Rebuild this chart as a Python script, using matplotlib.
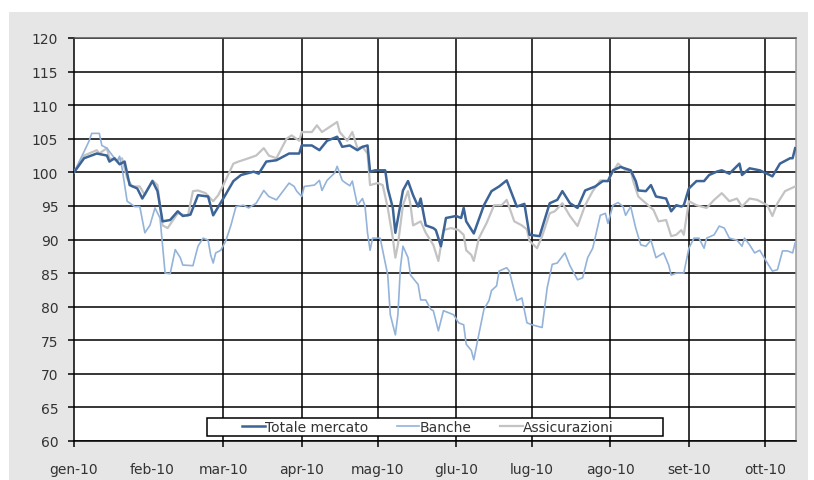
import matplotlib
matplotlib.use("Agg")
import matplotlib.pyplot as plt
import matplotlib.dates as mdates
from matplotlib.patches import Rectangle
from matplotlib.ticker import FixedLocator
import pandas as pd

plt.rcParams["font.family"] = ["DejaVu Sans"]

YEAR = "2010-"

# Indici (base 100 = 1 gennaio 2010)
totale_dates = ["01-01", "01-05", "01-10", "01-14", "01-15", "01-17", "01-19", "01-21", "01-23", "01-26",
                "01-28", "02-01", "02-03", "02-05", "02-08", "02-11", "02-13", "02-16", "02-19", "02-23",
                "02-25", "03-01", "03-05", "03-08", "03-13", "03-15", "03-18", "03-22", "03-27", "03-31",
                "04-01", "04-05", "04-08", "04-11", "04-15", "04-17", "04-20", "04-23", "04-25", "04-27",
                "04-28", "04-30", "05-04", "05-05", "05-07", "05-08", "05-11", "05-13", "05-15", "05-17",
                "05-18", "05-20", "05-23", "05-24", "05-26", "05-28", "06-01", "06-03", "06-04", "06-05",
                "06-08", "06-12", "06-15", "06-18", "06-21", "06-25", "06-28", "06-30", "07-04", "07-08",
                "07-11", "07-13", "07-16", "07-19", "07-22", "07-26", "07-29", "07-31", "08-02", "08-05",
                "08-09", "08-11", "08-12", "08-15", "08-17", "08-19", "08-23", "08-25", "08-27", "08-29",
                "08-30", "09-01", "09-04", "09-07", "09-09", "09-12", "09-14", "09-17", "09-21", "09-22",
                "09-25", "09-29", "10-03", "10-04", "10-07", "10-11", "10-12", "10-13"]
totale_values = [100, 102.1, 102.8, 102.5, 101.6, 102.1, 101.2, 101.6, 98.1, 97.6,
                 96.1, 98.7, 97.2, 92.7, 92.9, 94.2, 93.5, 93.7, 96.6, 96.4,
                 93.6, 96.1, 98.7, 99.6, 100.1, 99.8, 101.6, 101.8, 102.8, 102.8,
                 104.0, 104.0, 103.3, 104.7, 105.3, 103.8, 104.0, 103.3, 103.8, 104.0,
                 100.1, 100.3, 100.3, 97.6, 94.7, 91.0, 97.3, 98.7, 96.6, 94.9,
                 96.1, 92.1, 91.7, 91.4, 89.0, 93.2, 93.5, 93.2, 94.7, 92.7,
                 90.9, 95.1, 97.2, 97.9, 98.8, 94.9, 95.3, 90.7, 90.5, 95.4,
                 95.9, 97.2, 95.4, 94.7, 97.3, 97.9, 98.7, 98.7, 100.3, 100.8,
                 100.3, 98.7, 97.3, 97.2, 98.1, 96.4, 96.1, 94.2, 95.1, 94.9,
                 95.1, 97.6, 98.7, 98.7, 99.6, 100.1, 100.3, 99.8, 101.3, 99.6,
                 100.6, 100.3, 99.6, 99.4, 101.3, 102.1, 102.1, 103.6]

banche_dates = ["01-01", "01-05", "01-07", "01-08", "01-11", "01-12", "01-14", "01-15", "01-18", "01-19",
                "01-20", "01-22", "01-25", "01-27", "01-29", "01-31", "02-02", "02-04", "02-06", "02-08",
                "02-10", "02-12", "02-13", "02-17", "02-19", "02-21", "02-23", "02-24", "02-25", "02-26",
                "02-28", "03-02", "03-04", "03-06", "03-09", "03-11", "03-14", "03-17", "03-19", "03-22",
                "03-24", "03-27", "03-29", "03-30", "04-01", "04-02", "04-06", "04-08", "04-09", "04-11",
                "04-14", "04-15", "04-17", "04-18", "04-20", "04-21", "04-23", "04-25", "04-26", "04-27",
                "04-28", "04-29", "05-02", "05-05", "05-06", "05-08", "05-09", "05-10", "05-11", "05-13",
                "05-14", "05-17", "05-18", "05-20", "05-22", "05-23", "05-25", "05-27", "05-29", "05-31",
                "06-02", "06-04", "06-05", "06-07", "06-08", "06-10", "06-12", "06-14", "06-15", "06-17",
                "06-18", "06-21", "06-22", "06-24", "06-25", "06-27", "06-29", "07-01", "07-05", "07-07",
                "07-09", "07-11", "07-14", "07-16", "07-19", "07-21", "07-23", "07-25", "07-27", "07-28",
                "07-30", "07-31", "08-02", "08-04", "08-06", "08-07", "08-09", "08-11", "08-13", "08-15",
                "08-17", "08-19", "08-22", "08-24", "08-25", "08-27", "08-30", "09-01", "09-03", "09-05",
                "09-07", "09-08", "09-11", "09-13", "09-15", "09-17", "09-20", "09-22", "09-23", "09-25",
                "09-27", "09-29", "10-02", "10-04", "10-06", "10-08", "10-10", "10-12", "10-13"]
banche_values = [100, 103.1, 104.7, 105.8, 105.8, 104.0, 103.6, 103.1, 101.6, 102.4,
                 100.6, 95.7, 94.9, 94.9, 91.0, 92.1, 94.7, 93.2, 85.0, 84.9,
                 88.5, 87.3, 86.2, 86.1, 89.0, 90.2, 89.9, 87.7, 86.5, 88.0,
                 88.4, 89.8, 92.1, 94.9, 95.1, 94.7, 95.4, 97.3, 96.4, 95.9,
                 96.9, 98.4, 97.9, 97.2, 96.4, 97.9, 98.1, 98.8, 97.3, 98.8,
                 99.9, 100.9, 98.8, 98.5, 98.0, 98.7, 95.1, 96.1, 95.0, 91.0,
                 88.4, 90.2, 90.2, 84.7, 78.8, 75.8, 78.8, 85.8, 89.0, 87.3,
                 84.7, 83.3, 81.0, 81.0, 79.6, 79.4, 76.4, 79.4, 79.1, 78.8,
                 77.6, 77.3, 74.4, 73.5, 72.1, 75.9, 79.6, 80.9, 82.4, 83.1,
                 85.3, 85.8, 85.3, 82.4, 80.9, 81.3, 77.6, 77.3, 76.9, 82.8,
                 86.3, 86.5, 88.0, 86.1, 84.0, 84.3, 87.3, 88.7, 92.0, 93.6,
                 93.9, 92.4, 95.1, 95.5, 94.9, 93.6, 94.9, 91.7, 89.2, 89.0,
                 89.9, 87.3, 88.0, 86.2, 84.7, 85.0, 85.0, 88.7, 90.2, 90.2,
                 88.7, 90.2, 90.7, 92.0, 91.7, 90.2, 89.9, 89.0, 90.2, 89.2,
                 88.0, 88.4, 86.5, 85.3, 85.5, 88.3, 88.3, 88.0, 89.5]

assic_dates = ["01-01", "01-05", "01-10", "01-11", "01-14", "01-15", "01-18", "01-20", "01-22", "01-24",
               "01-27", "01-29", "02-01", "02-03", "02-05", "02-07", "02-11", "02-15", "02-17", "02-19",
               "02-22", "02-25", "02-27", "03-01", "03-05", "03-07", "03-11", "03-14", "03-17", "03-19",
               "03-22", "03-26", "03-28", "03-31", "04-01", "04-05", "04-07", "04-09", "04-15", "04-16",
               "04-19", "04-21", "04-23", "04-25", "04-27", "04-28", "05-01", "05-03", "05-05", "05-07",
               "05-08", "05-09", "05-11", "05-13", "05-14", "05-15", "05-18", "05-20", "05-22", "05-23",
               "05-25", "05-27", "05-30", "06-02", "06-04", "06-05", "06-07", "06-08", "06-10", "06-13",
               "06-16", "06-19", "06-21", "06-24", "06-27", "06-29", "06-30", "07-03", "07-05", "07-08",
               "07-10", "07-13", "07-16", "07-19", "07-22", "07-25", "07-28", "07-31", "08-02", "08-04",
               "08-07", "08-09", "08-10", "08-12", "08-15", "08-18", "08-20", "08-23", "08-25", "08-27",
               "08-29", "08-30", "09-01", "09-04", "09-06", "09-08", "09-11", "09-14", "09-17", "09-20",
               "09-22", "09-25", "09-28", "10-02", "10-04", "10-06", "10-09", "10-13"]
assic_values = [100, 102.5, 103.3, 102.8, 103.6, 102.1, 101.8, 102.1, 99.1, 97.9,
                97.9, 96.6, 98.8, 98.1, 92.1, 91.7, 93.9, 93.5, 97.2, 97.3,
                96.9, 95.7, 96.6, 98.1, 101.3, 101.6, 102.1, 102.5, 103.6, 102.5,
                102.1, 105.0, 105.5, 104.7, 106.0, 106.0, 107.0, 106.0, 107.5, 106.0,
                104.7, 106.0, 103.6, 103.8, 102.8, 98.1, 98.4, 98.1, 94.7, 90.2,
                87.3, 89.2, 95.1, 97.2, 95.1, 92.1, 92.7, 91.0, 89.8, 89.2,
                86.8, 91.4, 91.7, 91.4, 90.7, 88.4, 87.7, 86.8, 90.2, 92.4,
                95.1, 95.1, 95.9, 92.7, 92.1, 91.5, 89.8, 88.7, 90.5, 93.9,
                94.2, 95.4, 93.5, 92.0, 95.1, 97.2, 98.8, 98.7, 100.1, 101.3,
                100.3, 100.3, 98.7, 96.4, 95.4, 94.4, 92.7, 92.9, 90.5, 90.7,
                91.4, 90.7, 95.7, 95.1, 94.9, 94.7, 95.9, 96.9, 95.7, 96.1,
                94.9, 96.1, 95.9, 95.1, 93.5, 95.4, 97.2, 97.9]

month_starts = ["01-01", "02-01", "03-01", "04-01", "05-01", "06-01", "07-01", "08-01", "09-01", "10-01"]
month_labels = ["gen-10", "feb-10", "mar-10", "apr-10", "mag-10", "glu-10", "lug-10", "ago-10",
                "set-10", "ott-10"]
y_ticks = list(range(60, 121, 5))

series_names = ["Totale mercato", "Banche", "Assicurazioni"]
series_colors = ["#3c6497", "#93b3da", "#c3c3c3"]


def to_dates(days):
    return pd.to_datetime([YEAR + d for d in days])


W, H = 814, 481
fig = plt.figure(figsize=(W / 100, H / 100), dpi=100)
fig.patch.set_facecolor("white")

# grey panel behind the chart
fig.patches.append(Rectangle((9 / W, 0), (808 - 9) / W, (H - 13) / H, transform=fig.transFigure,
                             facecolor="#e6e6e6", edgecolor="none", zorder=-1))

ax = fig.add_axes([74 / W, 1 - 442 / H, (796 - 74) / W, (442 - 39) / H])
ax.set_facecolor("white")

l_ass, = ax.plot(to_dates(assic_dates), assic_values, color=series_colors[2], lw=1.6, zorder=3)
l_ban, = ax.plot(to_dates(banche_dates), banche_values, color=series_colors[1], lw=1.2, zorder=4)
l_tot, = ax.plot(to_dates(totale_dates), totale_values, color=series_colors[0], lw=1.8, zorder=5)

ax.set_ylim(60, 120)
ax.set_xlim(pd.Timestamp("2010-01-01"), pd.Timestamp("2010-10-13 08:00"))

# horizontal grid
ax.set_yticks(y_ticks)
ax.yaxis.grid(True, color="black", lw=1.1, zorder=1)
ax.tick_params(axis="y", direction="out", length=4.3, width=1.1, color="black", pad=7,
               labelsize=10, labelcolor="#333333")

# month labels (all months), tick marks and vertical grid (no February line)
month_dates = to_dates(month_starts)
ax.set_xticks(mdates.date2num(month_dates))
ax.set_xticklabels(month_labels)
ax.tick_params(axis="x", which="major", length=0, pad=15, labelsize=10, labelcolor="#333333")
grid_dates = [d for d, lab in zip(month_dates, month_labels) if not lab.startswith("feb")]
ax.xaxis.remove_overlapping_locs = False
ax.xaxis.set_minor_locator(FixedLocator(mdates.date2num(grid_dates)))
ax.tick_params(axis="x", which="minor", direction="out", length=4.5, width=1.1, color="black")
for d in grid_dates[1:]:
    ax.axvline(d, color="black", lw=1.1, zorder=1)

for side in ("left", "bottom"):
    ax.spines[side].set_color("black")
    ax.spines[side].set_linewidth(1.1)
ax.spines["top"].set_color("#555555")
ax.spines["top"].set_linewidth(1.1)
ax.spines["right"].set_color("#9a9a9a")
ax.spines["right"].set_linewidth(1.1)

# legend box
fig.patches.append(Rectangle((207 / W, 1 - 437 / H), (663 - 207) / W, (437 - 419) / H,
                             transform=fig.transFigure, facecolor="white", edgecolor="black",
                             lw=1.1, zorder=3))
fig.legend([l_tot, l_ban, l_ass], series_names, loc="center",
           bbox_to_anchor=(428 / W, 1 - 428 / H), ncol=3, frameon=False, fontsize=10,
           handlelength=1.65, handletextpad=0.05, columnspacing=2.0, borderpad=0.1,
           labelcolor="#333333")

fig.savefig("out.png", dpi=100)
